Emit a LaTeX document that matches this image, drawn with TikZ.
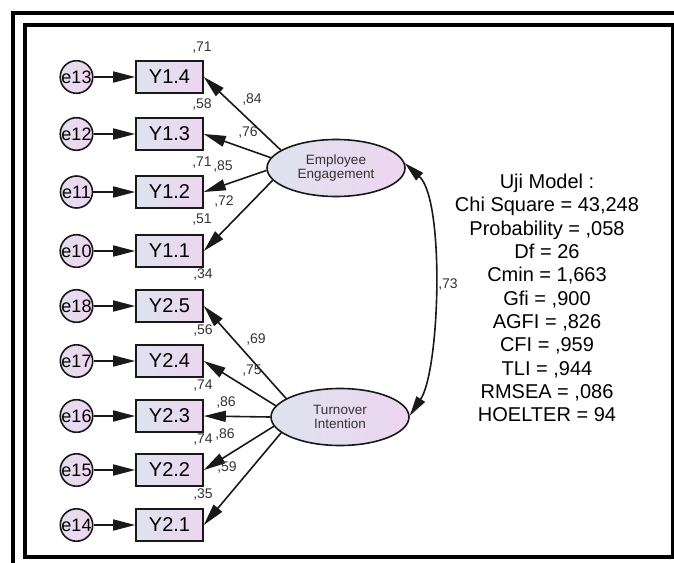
\documentclass[tikz,border=0pt]{standalone}
\usepackage{fontspec}
\setmainfont{Liberation Sans}
\usetikzlibrary{arrows.meta,shapes.geometric}
\definecolor{lg}{RGB}{222,227,238}
\definecolor{lv}{RGB}{237,213,240}
\definecolor{ink}{RGB}{25,25,25}
\begin{document}
\begin{tikzpicture}[x=1pt,y=-1pt,
 obs/.style={draw=ink,line width=1.6pt,left color=lg,right color=lv,minimum width=67pt,minimum height=32pt,inner sep=0pt,font=\fontsize{20}{20}\selectfont},
 err/.style={circle,draw=ink,line width=1.6pt,left color=lg!60!lv,right color=lv,minimum size=32pt,inner sep=0pt,font=\fontsize{18}{18}\selectfont},
 lat/.style={ellipse,draw=ink,line width=1.6pt,left color=lg,right color=lv,minimum width=138pt,minimum height=57pt,inner sep=0pt,align=center,font=\fontsize{13.5}{14.5}\selectfont,text=black!80},
 pth/.style={draw=ink,line width=1.6pt,-{Triangle[length=22pt,width=11pt]}},
 cov/.style={draw=ink,line width=1.6pt,{Triangle[length=20pt,width=10pt]}-{Triangle[length=20pt,width=10pt]}},
 est/.style={font=\fontsize{14}{14}\selectfont,text=black!80,inner sep=0pt}]
\useasboundingbox (0,0) rectangle (674,562);
\begin{scope}
\clip (0,0) rectangle (674,562);
\draw[line width=4.5pt] (13,13) rectangle (700,600);
\draw[line width=4pt] (24.5,24.5) rectangle (672.5,557);
\end{scope}
% latent variables
\node[lat] (EE) at (336,168) {Employee\\Engagement};
\node[lat] (TI) at (340,417) {Turnover\\Intention};
% indicators and errors
\node[obs] (y14) at (169.5,77) {Y1.4}; \node[err] (e13) at (76.5,77) {e13};
\node[obs] (y13) at (169.5,134) {Y1.3}; \node[err] (e12) at (76.5,134) {e12};
\node[obs] (y12) at (169.5,192) {Y1.2}; \node[err] (e11) at (76.5,192) {e11};
\node[obs] (y11) at (169.5,251) {Y1.1}; \node[err] (e10) at (76.5,251) {e10};
\node[obs] (y25) at (169.5,306) {Y2.5}; \node[err] (e18) at (76.5,306) {e18};
\node[obs] (y24) at (169.5,361) {Y2.4}; \node[err] (e17) at (76.5,361) {e17};
\node[obs] (y23) at (169.5,416) {Y2.3}; \node[err] (e16) at (76.5,416) {e16};
\node[obs] (y22) at (169.5,470) {Y2.2}; \node[err] (e15) at (76.5,470) {e15};
\node[obs] (y21) at (169.5,525) {Y2.1}; \node[err] (e14) at (76.5,525) {e14};
\draw[pth] (e13)--(y14); \draw[pth] (e12)--(y13); \draw[pth] (e11)--(y12); \draw[pth] (e10)--(y11);
\draw[pth] (e18)--(y25); \draw[pth] (e17)--(y24); \draw[pth] (e16)--(y23); \draw[pth] (e15)--(y22); \draw[pth] (e14)--(y21);
% loadings
\draw[pth] (EE.162)--(y14.east); \draw[pth] (EE.171)--(y13.east);
\draw[pth] (EE.182)--(y12.east); \draw[pth] (EE.191)--(y11.east);
\draw[pth] (TI.161)--(y25.east); \draw[pth] (TI.170)--(y24.east); \draw[pth] (TI.180)--(y23.east);
\draw[pth] (TI.188)--(y22.east); \draw[pth] (TI.195)--(y21.east);
\draw[cov] (EE.4) .. controls (445,200) and (440,370) .. (TI.1);
% estimates
\node[est] (r14) at (202,48) {,71}; \node[est] (l14) at (252,100) {,84};
\node[est] (r13) at (202,105) {,58}; \node[est] (l13) at (248,133) {,76};
\node[est] (r12) at (202,163) {,71}; \node[est] (l12) at (223,167) {,85};
\node[est] (r11) at (202,220) {,51}; \node[est] (l11) at (224,202) {,72};
\node[est] (r25) at (203,275) {,34}; \node[est] (l25) at (256,340) {,69};
\node[est] (r24) at (203,331) {,56}; \node[est] (l24) at (252,371) {,75};
\node[est] (r23) at (203,386) {,74}; \node[est] (l23) at (226,403) {,86};
\node[est] (r22) at (203,440) {,74}; \node[est] (l22) at (225,435) {,86};
\node[est] (r21) at (203,495) {,35}; \node[est] (l21) at (227,467) {,59};
\node[est] (rc) at (448,285) {,73};
% fit
\node[align=center,font=\fontsize{20}{23.3}\selectfont] (fit) at (547,298) {Uji Model :\\Chi Square = 43,248\\Probability = ,058\\Df = 26\\Cmin = 1,663\\Gfi = ,900\\AGFI = ,826\\CFI = ,959\\TLI = ,944\\RMSEA = ,086\\HOELTER = 94};
\end{tikzpicture}
\end{document}
